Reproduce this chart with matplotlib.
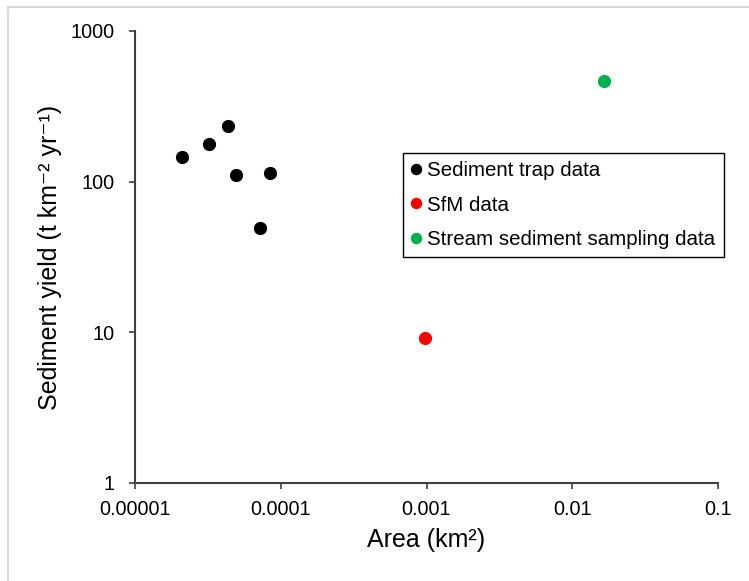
import numpy as np
import matplotlib
matplotlib.use('Agg')
import matplotlib.pyplot as plt
from matplotlib.lines import Line2D
from matplotlib.ticker import FixedLocator, FixedFormatter, NullLocator

plt.rcParams['font.family'] = ['Liberation Sans', 'DejaVu Sans']

# sediment trap data
trap_area = [2.1e-5, 3.2e-5, 4.35e-5, 4.95e-5, 8.45e-5, 7.2e-5]
trap_yield = [145, 178, 234, 111, 114, 49]
# SfM data
sfm_area = [0.00098]
sfm_yield = [9.2]
# stream sediment sampling data
stream_area = [0.0165]
stream_yield = [465]

xticks = [1e-5, 1e-4, 1e-3, 1e-2, 1e-1]
xlabels = ['0.00001', '0.0001', '0.001', '0.01', '0.1']
yticks = [1, 10, 100, 1000]
ylabels = ['1', '10', '100', '1000']

W, H = 749, 581
fig = plt.figure(figsize=(W / 100, H / 100), dpi=100)
ax = fig.add_axes([135 / W, 1 - 483 / H, (718 - 135) / W, (483 - 31) / H])

ax.plot(trap_area, trap_yield, 'o', color='black', markersize=8.5, label='Sediment trap data')
ax.plot(sfm_area, sfm_yield, 'o', color='#ff0000', markersize=8.5, label='SfM data')
ax.plot(stream_area, stream_yield, 'o', color='#00b050', markersize=8.5, label='Stream sediment sampling data')

ax.set_xscale('log')
ax.set_yscale('log')
ax.set_xlim(1e-5, 0.1)
ax.set_ylim(1, 1000)
ax.xaxis.set_major_locator(FixedLocator(xticks))
ax.xaxis.set_major_formatter(FixedFormatter(xlabels))
ax.xaxis.set_minor_locator(NullLocator())
ax.yaxis.set_major_locator(FixedLocator(yticks))
ax.yaxis.set_major_formatter(FixedFormatter(ylabels))
ax.yaxis.set_minor_locator(NullLocator())

for s in ['top', 'right']:
    ax.spines[s].set_visible(False)
for s in ['left', 'bottom']:
    ax.spines[s].set_color('#404040')
    ax.spines[s].set_linewidth(1.5)
ax.tick_params(axis='both', direction='out', length=4.5, width=1.2, color='#404040',
               labelsize=14.3, labelcolor='black')
ax.tick_params(axis='y', pad=10)
ax.tick_params(axis='x', pad=8)

ax.set_xlabel('Area (km²)', fontsize=18, labelpad=6)
ax.set_ylabel('Sediment yield (t km⁻² yr⁻¹)', fontsize=18, labelpad=6)

leg = ax.legend(loc='upper left', bbox_to_anchor=(402.7 / W, 1 - 152.7 / H),
                bbox_transform=fig.transFigure, borderaxespad=0, fontsize=14.8,
                frameon=True, fancybox=False, edgecolor='black', framealpha=1,
                handlelength=0.5, handletextpad=0.3, labelspacing=0.76,
                borderpad=0.4, markerscale=0.85)
leg.get_frame().set_linewidth(1.0)

# faint frame of the original screenshot
fig.add_artist(Line2D([8 / W, 8 / W], [0, 1 - 6.5 / H], color='#d9d9d9', lw=1.5, transform=fig.transFigure))
fig.add_artist(Line2D([8 / W, 1], [1 - 6.5 / H, 1 - 6.5 / H], color='#d9d9d9', lw=1.5, transform=fig.transFigure))

fig.savefig('out.png', dpi=100)
